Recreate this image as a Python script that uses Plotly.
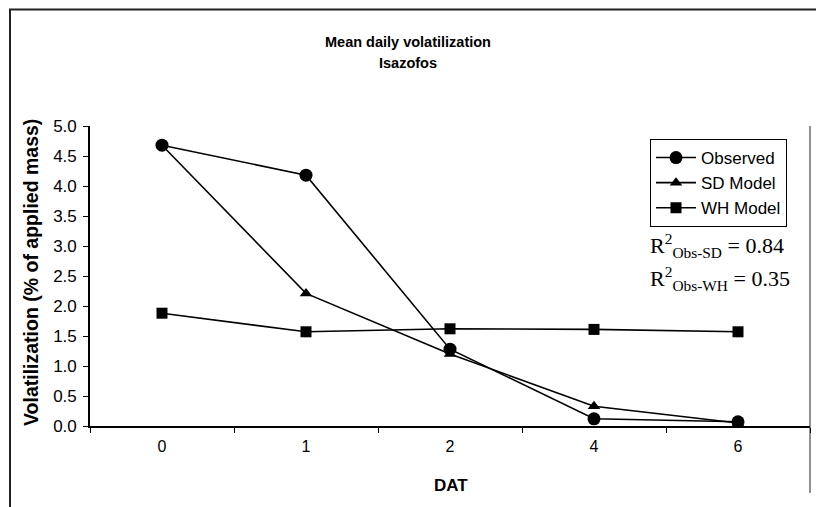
import plotly.graph_objects as go

dat = ["0", "1", "2", "4", "6"]
observed = [4.68, 4.18, 1.28, 0.12, 0.07]
sd_model = [4.68, 2.21, 1.20, 0.33, 0.05]
wh_model = [1.88, 1.57, 1.62, 1.61, 1.57]
y_ticks = [0.0, 0.5, 1.0, 1.5, 2.0, 2.5, 3.0, 3.5, 4.0, 4.5, 5.0]

W, H = 816, 507
L, R, T, B = 90, 6, 126, 81
pw, ph = W - L - R, H - T - B

def px(x):
    return (x - L) / pw

def py(y):
    return (H - B - y) / ph

fig = go.Figure()
fig.add_trace(go.Scatter(x=dat, y=observed, name="Observed", mode="lines+markers",
                         line=dict(color="black", width=1.6),
                         marker=dict(symbol="circle", size=13, color="black")))
fig.add_trace(go.Scatter(x=dat, y=sd_model, name="SD Model", mode="lines+markers",
                         line=dict(color="black", width=1.6),
                         marker=dict(symbol="triangle-up", size=11, color="black")))
fig.add_trace(go.Scatter(x=dat, y=wh_model, name="WH Model", mode="lines+markers",
                         line=dict(color="black", width=1.6),
                         marker=dict(symbol="square", size=11, color="black")))

fig.update_layout(
    width=W, height=H,
    margin=dict(l=L, r=R, t=T, b=B),
    paper_bgcolor="white", plot_bgcolor="white",
    font=dict(family="Liberation Sans, Arial", size=16, color="black"),
    showlegend=True,
    legend=dict(x=px(650), y=py(139), xanchor="left", yanchor="top",
                bordercolor="black", borderwidth=1, bgcolor="white",
                font=dict(size=17), itemwidth=40, tracegroupgap=0),
    xaxis=dict(type="category", range=[-0.5, 4.5], tickson="boundaries",
               ticks="outside", ticklen=5, tickcolor="black", showline=True,
               linecolor="black", linewidth=1.6, showgrid=False,
               tickfont=dict(size=16), ticklabelstandoff=5),
    yaxis=dict(range=[0, 5], tickvals=y_ticks, tickformat=".1f",
               ticks="outside", ticklen=5, tickcolor="black", showline=True,
               linecolor="black", linewidth=1.6, showgrid=False, zeroline=False,
               tickfont=dict(size=17), ticklabelstandoff=3),
)

def note(x, y, text, **kw):
    fig.add_annotation(xref="paper", yref="paper", x=px(x), y=py(y),
                       showarrow=False, text=text, **kw)

# titles
title_font = dict(size=14.5)
note(408, 42, "<b>Mean daily volatilization</b>", xanchor="center", yanchor="middle",
     font=title_font)
note(408, 63, "<b>Isazofos</b>", xanchor="center", yanchor="middle", font=title_font)
note(451, 485, "<b>DAT</b>", xanchor="center", yanchor="middle", font=dict(size=17))
note(31, 273, "<b>Volatilization (% of applied mass)</b>", xanchor="center",
     yanchor="middle", textangle=-90, font=dict(size=19.5))

# R² annotations
note(648, 245, "R<sup>2</sup><sub>Obs-SD</sub> = 0.84", xanchor="left", yanchor="middle",
     font=dict(family="Liberation Serif, Times New Roman", size=22))
note(648, 278, "R<sup>2</sup><sub>Obs-WH</sub> = 0.35", xanchor="left", yanchor="middle",
     font=dict(family="Liberation Serif, Times New Roman", size=22))

# outer chart border (cut off at the right/bottom as in the reference)
fig.add_shape(type="line", xref="paper", yref="paper",
              x0=px(9), x1=px(816), y0=py(9.5), y1=py(9.5),
              line=dict(color="#222", width=2))
fig.add_shape(type="line", xref="paper", yref="paper",
              x0=px(10), x1=px(10), y0=py(9), y1=py(507),
              line=dict(color="#222", width=2))
fig.add_shape(type="line", xref="paper", yref="paper",
              x0=px(810), x1=px(810), y0=py(126), y1=py(493),
              line=dict(color="#222", width=1))

fig.write_html("out.html", config={"displayModeBar": False},
               post_script="document.body.style.margin='0';document.body.style.overflow='hidden';")
